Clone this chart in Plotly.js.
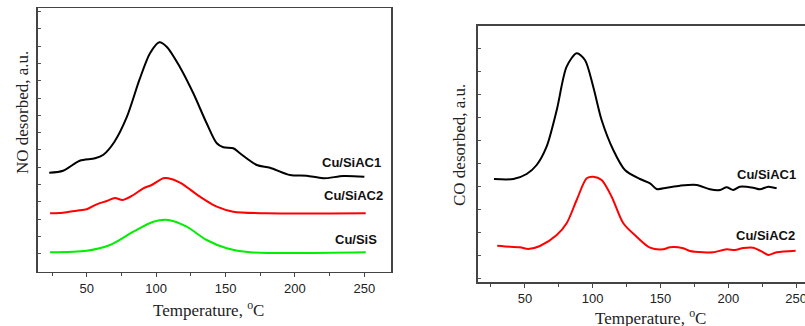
<!DOCTYPE html>
<html>
<head>
<meta charset="utf-8">
<script src="https://cdn.plot.ly/plotly-3.0.1.min.js"></script>
<style>html,body{margin:0;padding:0;background:#fff;}#chart{width:805px;height:326px;}</style>
</head>
<body>
<div id="chart"></div>
<script>
// ---- Left panel: NO desorption ----
const noTempAC1 = [23, 33, 45, 56, 62, 70, 79, 88, 95.6, 102.3, 107.6, 117, 126.8, 136.4, 143.7, 148.4, 155.6, 160.4, 172.5, 182, 196.5, 208.5, 220.4, 234.9, 250];
const noAC1 = [99, 101, 111, 113.4, 117, 130, 155, 192, 218.4, 229.4, 225, 205, 178.4, 148.4, 128.4, 124.4, 123.4, 118.4, 106.7, 104, 96.7, 96, 93.4, 95.7, 95];
const noTempAC2 = [23.6, 33, 42.8, 50, 57.2, 64.4, 70.4, 75.9, 83.6, 90.8, 96.8, 105.2, 108.8, 117.2, 131.6, 143.7, 155.6, 179.7, 251];
const noAC2 = [58.4, 59, 61, 62.4, 67.4, 70.7, 73.7, 71.7, 76.7, 83.4, 86.7, 93.4, 93.4, 89, 75, 65, 60, 58.4, 58.4];
const noTempSiS = [23.6, 50, 66.8, 83.6, 98, 108.8, 122, 136.4, 150.9, 167.6, 251];
const noSiS = [19.4, 21, 26.7, 40, 50, 51.7, 45, 31.7, 23.4, 19.4, 19.4];

// ---- Right panel: CO desorption ----
const coTempAC1 = [27.2, 41.5, 51.3, 58.7, 66, 73.5, 80.8, 88.2, 94.3, 100.4, 106.6, 115.2, 123.8, 134.9, 142.3, 147.2, 154.6, 164.4, 176.7, 186.5, 193.9, 198.8, 203.7, 208.6, 218.4, 223.4, 229.5, 235.7];
const coAC1 = [103.3, 103.3, 108.3, 117.3, 135.6, 172.3, 215.6, 229, 222.3, 195.6, 162.3, 132.3, 112.3, 103.3, 99, 93.3, 94.6, 96.6, 97.3, 93, 92.3, 95, 92.3, 95.6, 94.6, 93, 95.6, 94];
const coTempAC2 = [29.6, 39, 46.4, 52.5, 61.1, 73.5, 80.8, 88.2, 95.6, 100.4, 106.6, 114, 122.6, 132.4, 142.3, 152.1, 157, 166.8, 171.7, 181.6, 188.9, 198.8, 204.9, 211.1, 218.4, 225.8, 229.5, 235.7, 249.7];
const coAC2 = [36.6, 35.6, 35, 33.3, 36.3, 47.3, 59, 82.3, 104, 105.6, 102.3, 85.6, 59, 45.6, 34.6, 33, 35, 34, 31.3, 30, 30, 33, 32.3, 34.3, 34.6, 30, 27.3, 30, 31.6];

const xTickVals = [50, 100, 150, 200, 250];
const xTickText = ['50', '100', '150', '200', '250'];
const seriesLabels = ['Cu/SiAC1', 'Cu/SiAC2', 'Cu/SiS'];
const xTitle = 'Temperature, <sup>o</sup>C';
const yTitleNO = 'NO desorbed, a.u.';
const yTitleCO = 'CO desorbed, a.u.';

const W = 805, H = 326;
const px = v => v / W;
const py = v => 1 - v / H;

function line(x, y, color, xa, ya) {
  return {x: x, y: y, type: 'scatter', mode: 'lines', xaxis: xa, yaxis: ya,
    line: {color: color, width: 2, shape: 'spline', smoothing: 0.8}, hoverinfo: 'skip', showlegend: false};
}

const traces = [
  line(noTempAC1, noAC1, '#000000', 'x', 'y'),
  line(noTempAC2, noAC2, '#ff0000', 'x', 'y'),
  line(noTempSiS, noSiS, '#00ee00', 'x', 'y'),
  line(coTempAC1, coAC1, '#000000', 'x2', 'y2'),
  line(coTempAC2, coAC2, '#ff0000', 'x2', 'y2')
];

const tickFont = {family: 'Liberation Sans, Arial, sans-serif', size: 13, color: '#222'};
function xAxis(domain, range, anchor) {
  return {domain: domain, range: range, anchor: anchor, showgrid: false, zeroline: false,
    showline: true, linecolor: '#444', linewidth: 1.5, mirror: true,
    tickmode: 'array', tickvals: xTickVals, ticktext: xTickText, ticks: 'outside', ticklen: 4, tickcolor: '#444', tickwidth: 1,
    minor: {tickmode: 'linear', tick0: 25, dtick: 50, ticks: 'outside', ticklen: 3, tickcolor: '#444'},
    ticklabeloverflow: 'allow',
    tickfont: tickFont, fixedrange: true};
}
function yAxis(domain, range, anchor, tick0, dtick, mirror) {
  return {domain: domain, range: range, anchor: anchor, showgrid: false, zeroline: false,
    showline: true, linecolor: '#444', linewidth: 1.5, mirror: mirror,
    tickmode: 'linear', tick0: tick0, dtick: dtick, ticks: 'inside', ticklen: 3, tickcolor: '#555',
    showticklabels: false, fixedrange: true};
}

const labelFont = {family: 'Liberation Sans, Arial, sans-serif', size: 13, color: '#111', weight: 'bold'};
const titleFont = {family: 'Liberation Serif, Times New Roman, serif', size: 17, color: '#222'};
function ann(text, x, y, font, angle) {
  return {text: text, xref: 'paper', yref: 'paper', x: px(x), y: py(y), xanchor: 'center', yanchor: 'middle',
    showarrow: false, font: font, textangle: angle || 0};
}

const layout = {
  width: W, height: H, margin: {l: 0, r: 0, t: 0, b: 0},
  paper_bgcolor: '#fff', plot_bgcolor: '#fff', showlegend: false,
  xaxis: xAxis([px(37.7), px(391)], [14.7, 269.2], 'y'),
  yaxis: yAxis([1 - 271.7 / H, 1 - 8 / H], [0, 263.7], 'x', 18, 17.3, true),
  xaxis2: xAxis([px(477.7), 1], [15.2, 256.6], 'y2'),
  yaxis2: yAxis([1 - 282.3 / H, 1 - 25.7 / H], [0, 256.6], 'x2', 4, 23, false),
  annotations: [
    ann('<b>' + seriesLabels[0] + '</b>', 351, 162.3, labelFont),
    ann('<b>' + seriesLabels[1] + '</b>', 353, 195, labelFont),
    ann('<b>' + seriesLabels[2] + '</b>', 355.5, 239, labelFont),
    ann('<b>' + seriesLabels[0] + '</b>', 766, 174.3, labelFont),
    ann('<b>' + seriesLabels[1] + '</b>', 765, 235.7, labelFont),
    ann(xTitle, 208, 309, titleFont),
    ann(xTitle, 650, 317, titleFont),
    ann(yTitleNO, 22, 113, titleFont, -90),
    ann(yTitleCO, 459, 145, titleFont, -90)
  ]
};

Plotly.newPlot('chart', traces, layout, {staticPlot: true, displayModeBar: false});
</script>
</body>
</html>
